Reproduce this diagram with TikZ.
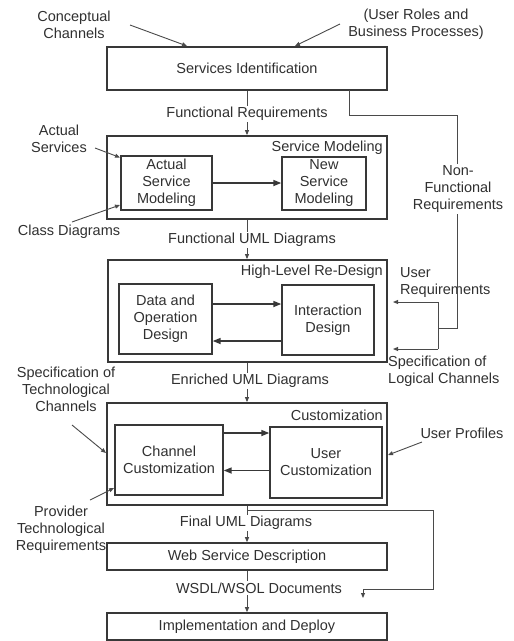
\documentclass[tikz,border=0pt]{standalone}
\usepackage{fontspec}
\setmainfont{Liberation Sans}
\usetikzlibrary{arrows.meta,calc}
\newcommand\myfs{\fontsize{14.5}{17}\selectfont}
\definecolor{boxc}{HTML}{383838}
\definecolor{linec}{HTML}{4A4A4A}
\definecolor{txtc}{HTML}{303030}
\begin{document}
\begin{tikzpicture}[x=1pt,y=-1pt,
  font=\myfs, text=txtc,
  outerbox/.style={draw=boxc, line width=1.8pt, inner sep=0pt},
  innerbox/.style={draw=boxc, line width=1.4pt, inner sep=0pt, align=center},
  flowbox/.style={draw=boxc, line width=1.6pt, inner sep=0pt, align=center},
  lbl/.style={fill=white, inner sep=1.5pt, align=center},
  txt/.style={inner sep=0pt, align=center},
  thinarrow/.style={draw=linec, line width=0.9pt, -{Triangle[length=5pt,width=4pt]}},
  thinline/.style={draw=linec, line width=1pt},
  thickarrow/.style={draw=boxc, line width=1.6pt, -{Triangle[length=8pt,width=6pt]}}]
\useasboundingbox (0,0) rectangle (514,641);
% boxes
\node[flowbox, minimum width=280pt, minimum height=43pt] (si) at (247,68.5) {Services Identification};
\node[outerbox, minimum width=280pt, minimum height=83pt] (sm) at (247,177.5) {};
\node[innerbox, minimum width=91pt, minimum height=54pt] (asm) at (166.5,183) {Actual\\Service\\Modeling};
\node[innerbox, minimum width=84pt, minimum height=53pt] (nsm) at (324,183.5) {New\\Service\\Modeling};
\node[txt, anchor=east] (smlbl) at (383,148) {Service Modeling};
\node[outerbox, minimum width=279pt, minimum height=102pt] (hl) at (247.5,311) {};
\node[innerbox, minimum width=93pt, minimum height=70pt] (dod) at (165.5,319) {Data and\\Operation\\Design};
\node[innerbox, minimum width=92pt, minimum height=70pt] (id) at (328,320) {Interaction\\Design};
\node[txt, anchor=east] (hllbl) at (383,272) {High-Level Re-Design};
\node[outerbox, minimum width=280pt, minimum height=102pt] (cu) at (247,454) {};
\node[innerbox, minimum width=108pt, minimum height=70pt] (cc) at (169,460) {Channel\\Customization};
\node[innerbox, minimum width=112pt, minimum height=71pt] (uc) at (326,462.5) {User\\Customization};
\node[txt, anchor=east] (culbl) at (383,415) {Customization};
\node[flowbox, minimum width=280pt, minimum height=27pt] (wsd) at (247,556.5) {Web Service Description};
\node[flowbox, minimum width=280pt, minimum height=27pt] (imp) at (247,626.5) {Implementation and Deploy};
% external texts
\node[txt] (cch) at (74,25) {Conceptual\\Channels};
\node[txt] (urb) at (416,24) {(User Roles and\\Business Processes)};
\node[txt] (acs) at (59,139) {Actual\\Services};
\node[txt] (cld) at (69,232) {Class Diagrams};
\node[txt, align=left, anchor=west] (ureq) at (400,283) {User\\Requirements};
\node[txt, align=left, anchor=west] (slc) at (388,371) {Specification of\\Logical Channels};
\node[txt] (stc) at (66,389) {Specification of\\Technological\\Channels};
\node[txt] (upr) at (462,433) {User Profiles};
\node[txt] (ptr) at (61,530) {Provider\\Technological\\Requirements};
% thin input arrows
\coordinate (a1) at (130,25);  \coordinate (b1) at (187,46);
\coordinate (a2) at (340,24);  \coordinate (b2) at (295,46);
\coordinate (a3) at (95,148);  \coordinate (b3) at (120,157.5);
\coordinate (a4) at (72,222);  \coordinate (b4) at (120,205);
\coordinate (a5) at (72,425);  \coordinate (b5) at (106,453);
\coordinate (a6) at (422,442); \coordinate (b6) at (388,455);
\coordinate (a7) at (90,500);  \coordinate (b7) at (114,488);
\foreach \i in {1,...,7} {\draw[thinarrow] (a\i) -- (b\i);}
% main flow
\draw[thinarrow] (si.south) -- (sm.north);
\draw[thinarrow] (sm.south) -- (sm.south |- hl.north);
\draw[thinarrow] (hl.south -| sm.south) -- (cu.north);
\draw[thinarrow] (cu.south) -- (wsd.north);
\draw[thinarrow] (wsd.south) -- (imp.north);
% inner arrows
\draw[thickarrow] (asm.east) -- (asm.east -| nsm.west);
\coordinate (d1) at ([yshift=15pt]dod.east);
\coordinate (d2) at ([yshift=-21pt]id.west);
\draw[thickarrow] (d1) -- (d1 -| id.west);
\draw[thickarrow] (d2) -- (d2 -| dod.east);
\coordinate (c1) at ([yshift=27pt]cc.east);
\coordinate (c2) at ([yshift=-8pt]uc.west);
\draw[thickarrow] (c1) -- (c1 -| uc.west);
\draw[thickarrow] (c2) -- (c2 -| cc.east);
% non-functional requirements path
\coordinate (n0) at (349,90);
\coordinate (n1) at (349,115);
\coordinate (n2) at (457,115);
\coordinate (n3) at (457,328);
\coordinate (n4) at (438,328);
\coordinate (n5) at (438,302);
\coordinate (n6) at (438,349);
\coordinate (e1) at (393,302);
\coordinate (e2) at (393,349);
\draw[thinline] (n0) -- (n1) -- (n2) -- (n3) -- (n4);
\draw[thinline] (n5) -- (n6);
\draw[thinarrow] (n5) -- (e1);
\draw[thinarrow] (n6) -- (e2);
% branch after customization
\coordinate (f0) at (247,510);
\coordinate (f1) at (433,510);
\coordinate (f2) at (433,589);
\coordinate (f3) at (363,589);
\coordinate (f4) at (363,598);
\draw[thinline] (f0) -- (f1) -- (f2) -- (f3);
\draw[thinarrow] (f3) -- (f4);
% connector labels
\node[lbl] (l1) at (247,114) {Functional Requirements};
\node[lbl] (l2) at (252,240) {Functional UML Diagrams};
\node[lbl] (l3) at (250,381) {Enriched UML Diagrams};
\node[lbl] (l4) at (246,523) {Final UML Diagrams};
\node[lbl] (l5) at (259,588) {WSDL/WSOL Documents};
\node[lbl] (l6) at (458,189) {Non-\\Functional\\Requirements};
\end{tikzpicture}
\end{document}
